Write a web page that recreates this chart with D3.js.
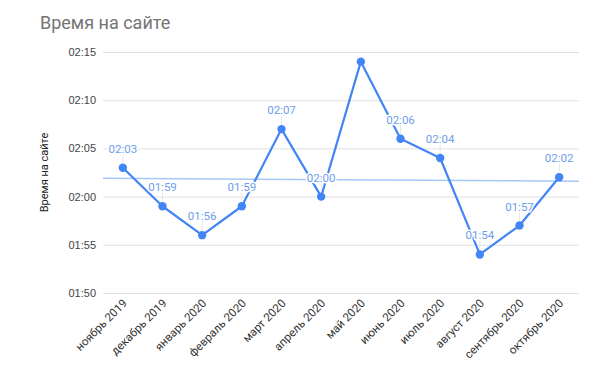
<!DOCTYPE html>
<html>
<head>
<meta charset="utf-8">
<script src="https://cdn.jsdelivr.net/npm/d3@7"></script>
<style>
  body { margin: 0; background: #fff; }
  svg { font-family: Roboto, Arial, sans-serif; }
</style>
</head>
<body>
<svg id="chart"></svg>
<script>
const months = ["ноябрь 2019", "декабрь 2019", "январь 2020", "февраль 2020", "март 2020", "апрель 2020",
                "май 2020", "июнь 2020", "июль 2020", "август 2020", "сентябрь 2020", "октябрь 2020"];
// seconds (mm:ss)
const seconds = [123, 119, 116, 119, 127, 120, 134, 126, 124, 114, 117, 122];
const showLabel = [true, true, true, true, true, true, false, true, true, true, true, true];
const yTicks = [110, 115, 120, 125, 130, 135];

const width = 612, height = 388;
const margin = { top: 52, right: 33, bottom: 95, left: 103 };

const fmt = s => d3.format("02")(Math.floor(s / 60)) + ":" + d3.format("02")(s % 60);

const svg = d3.select("#chart")
    .attr("width", width)
    .attr("height", height);

const x = d3.scaleBand()
    .domain(months)
    .range([margin.left, width - margin.right]);

const y = d3.scaleLinear()
    .domain([110, 135])
    .range([height - margin.bottom, margin.top]);

// title
svg.append("text")
    .attr("x", 40)
    .attr("y", 29)
    .attr("fill", "#757575")
    .style("font-size", "18px")
    .text("Время на сайте");

// grid + y labels
const yAxis = svg.append("g")
    .attr("transform", `translate(${margin.left},0)`)
    .call(d3.axisLeft(y).tickValues(yTicks).tickFormat(fmt)
        .tickSize(-(width - margin.left - margin.right)).tickPadding(7));
yAxis.select(".domain").remove();
yAxis.selectAll(".tick line").attr("stroke", "#e0e0e0");
yAxis.selectAll(".tick text").attr("fill", "#444").style("font-size", "11px");

// y title
svg.append("text")
    .attr("transform", `translate(48,${(margin.top + height - margin.bottom) / 2}) rotate(-90)`)
    .attr("text-anchor", "middle")
    .attr("fill", "#222")
    .style("font-size", "11px")
    .text("Время на сайте");

// x labels
svg.append("g")
    .selectAll("text")
    .data(months)
    .join("text")
    .attr("transform", d => `translate(${x(d) + x.bandwidth() / 2 + 5},${height - margin.bottom + 11}) rotate(-45)`)
    .attr("text-anchor", "end")
    .attr("fill", "#333")
    .style("font-size", "11.5px")
    .text(d => d);

// trendline (least squares)
const idx = d3.range(months.length);
const mx = d3.mean(idx), my = d3.mean(seconds);
const slope = d3.sum(idx, i => (i - mx) * (seconds[i] - my)) / d3.sum(idx, i => (i - mx) ** 2);
const trendAt = px => {
    const i = (px - (margin.left + x.bandwidth() / 2)) / x.step();
    return my + slope * (i - mx);
};
svg.append("line")
    .attr("x1", margin.left)
    .attr("x2", width - margin.right)
    .attr("y1", y(trendAt(margin.left)))
    .attr("y2", y(trendAt(width - margin.right)))
    .attr("stroke", "#a8c7fa")
    .attr("stroke-width", 1.5);

// leader lines
svg.append("g")
    .selectAll("line")
    .data(idx.filter(i => showLabel[i]))
    .join("line")
    .attr("x1", i => x(months[i]) + x.bandwidth() / 2)
    .attr("x2", i => x(months[i]) + x.bandwidth() / 2)
    .attr("y1", i => y(seconds[i]) - 5)
    .attr("y2", i => y(seconds[i]) - 14)
    .attr("stroke", "#e6e6e6")
    .attr("stroke-width", 1);

// line
const line = d3.line()
    .x((d, i) => x(months[i]) + x.bandwidth() / 2)
    .y(d => y(d));

svg.append("path")
    .datum(seconds)
    .attr("fill", "none")
    .attr("stroke", "#4285f4")
    .attr("stroke-width", 2.2)
    .attr("stroke-linejoin", "round")
    .attr("d", line);

svg.append("g")
    .selectAll("circle")
    .data(seconds)
    .join("circle")
    .attr("cx", (d, i) => x(months[i]) + x.bandwidth() / 2)
    .attr("cy", d => y(d))
    .attr("r", 4.2)
    .attr("fill", "#4285f4");

// data labels
svg.append("g")
    .selectAll("text")
    .data(idx.filter(i => showLabel[i]))
    .join("text")
    .attr("x", i => x(months[i]) + x.bandwidth() / 2)
    .attr("y", i => y(seconds[i]) - 15)
    .attr("text-anchor", "middle")
    .attr("fill", "#6d9eeb")
    .attr("stroke", "#fff")
    .attr("stroke-width", 3)
    .attr("stroke-linejoin", "round")
    .attr("paint-order", "stroke")
    .style("font-size", "11.5px")
    .text(i => fmt(seconds[i]));
</script>
</body>
</html>
